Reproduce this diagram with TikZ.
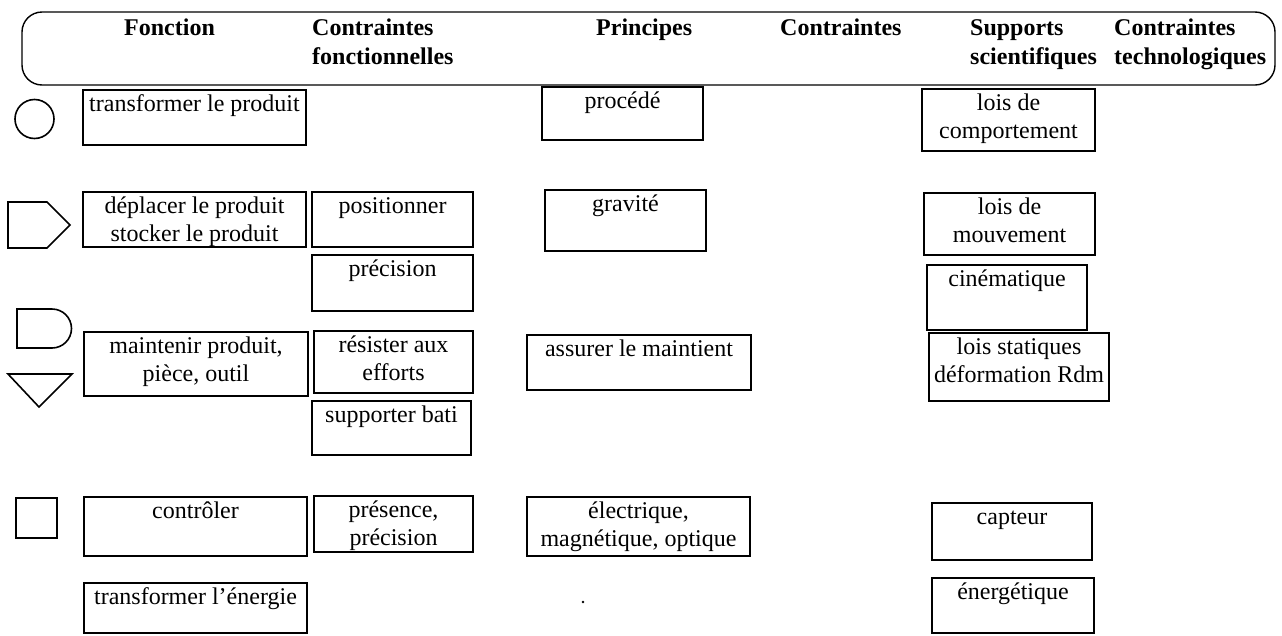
\documentclass[tikz,border=0pt]{standalone}
\usepackage{fontspec}
\setmainfont{Liberation Serif}
\usetikzlibrary{fit}
\newcommand\bx[6]{%
  \coordinate (#1a) at (#2,#3);
  \coordinate (#1b) at (#4,#5);
  \node[boxst, fit=(#1a)(#1b)] (#1) {};
  \node[txt] (#1t) at ([yshift=-2pt]#1.north) {\strut #6};
}
\begin{document}
\begin{tikzpicture}[x=1pt,y=-1pt,
  boxst/.style={draw, line width=1.3pt, inner sep=0pt, rectangle},
  txt/.style={inner sep=0pt, align=center, font=\fontsize{24}{28}\selectfont, anchor=north},
  hd/.style={inner sep=0pt, align=left, font=\fontsize{24}{29}\selectfont\bfseries, anchor=north west},
  sym/.style={draw, line width=1.6pt, line join=miter}]
\useasboundingbox (0,0) rectangle (1282,635);

% header frame
\coordinate (ha) at (22,12);
\coordinate (hb) at (1275,85);
\node[draw, line width=1.4pt, rounded corners=20pt, inner sep=0pt, fit=(ha)(hb)] (header) {};
\node[hd] (h1) at (124,14.5) {\strut Fonction};
\node[hd] (h2) at (312,14.5) {\strut Contraintes\\fonctionnelles};
\node[hd] (h3) at (596,14.5) {\strut Principes};
\node[hd] (h4) at (780,14.5) {\strut Contraintes};
\node[hd] (h5) at (970,14.5) {\strut Supports\\scientifiques};
\node[hd] (h6) at (1114,14.5) {\strut Contraintes\\technologiques};

% symbols
\node[sym, circle, minimum size=39pt, inner sep=0pt] (scirc) at (34.5,119) {};
\draw[sym] (8,202) -- (47,202) -- (70,225) -- (47,248) -- (8,248) -- cycle;
\draw[sym] (17,309) -- (52,309) arc[start angle=-90, end angle=90, radius=19.5] -- (17,348) -- cycle;
\draw[sym] (8,374) -- (72,374) -- (39,407) -- cycle;
\draw[sym] (16,498) rectangle (57,538);

% column Fonction
\bx{f1}{83}{90}{306}{145}{transformer le produit}
\bx{f2}{83}{192}{306}{247}{déplacer le produit\\stocker le produit}
\bx{f3}{84}{332}{308}{396}{maintenir produit,\\pièce, outil}
\bx{f4}{84}{497}{307}{556}{contrôler}
\bx{f5}{84}{583}{307}{633}{transformer l’énergie}

% column Contraintes fonctionnelles
\bx{c1}{312}{192}{473}{247}{positionner}
\bx{c2}{312}{255}{473}{311}{précision}
\bx{c3}{314}{331}{473}{393}{résister aux\\efforts}
\bx{c4}{312}{401}{471}{455}{supporter bati}
\bx{c5}{314}{496}{473}{552}{présence,\\précision}

% column Principes
\bx{p1}{542}{87}{703}{140}{procédé}
\bx{p2}{545}{190}{706}{251}{gravité}
\bx{p3}{527}{335}{751}{390}{assurer le maintient}
\bx{p4}{527}{497}{750}{556}{électrique,\\magnétique, optique}

% column Supports scientifiques
\bx{s1}{922}{89}{1095}{151}{lois de\\comportement}
\bx{s2}{924}{193}{1095}{255}{lois de\\mouvement}
\bx{s3}{927}{265}{1087}{330}{cinématique}
\bx{s4}{929}{333}{1109}{401}{lois statiques\\déformation Rdm}
\bx{s5}{932}{503}{1092}{560}{capteur}
\bx{s6}{932}{578}{1094}{633}{énergétique}

% stray dot
\node[circle, fill, inner sep=0.9pt] (dot) at (583,602) {};
\end{tikzpicture}
\end{document}
